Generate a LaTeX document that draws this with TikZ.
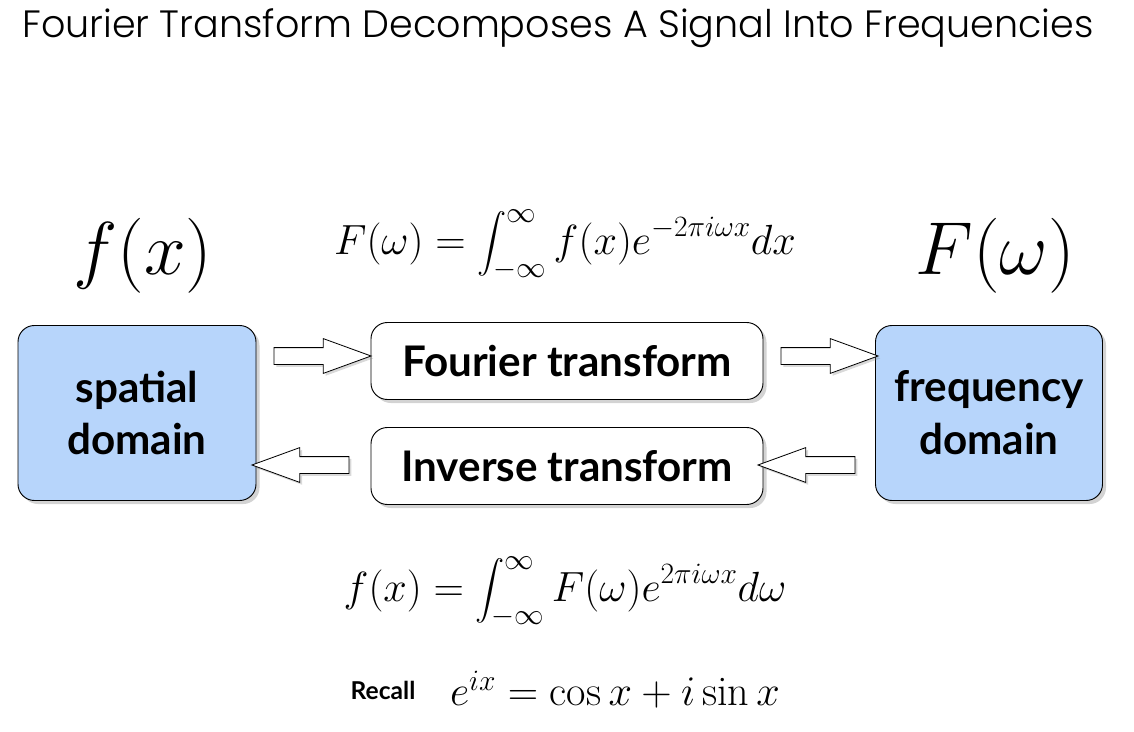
\documentclass[tikz,border=0pt]{standalone}
\usepackage{fix-cm}
\usepackage{exscale}
\usepackage{amsmath}
\usepackage{fontspec}
\setsansfont{Lato}
\newfontfamily\titlefont{Poppins Light}
\usetikzlibrary{shapes.arrows,shadows}
\definecolor{boxblue}{HTML}{B7D5FB}
\begin{document}
\begin{tikzpicture}[x=0.03cm,y=-0.03cm,
  dom/.style={draw=black,line width=0.8pt,fill=boxblue,rounded corners=14pt,minimum width=238*0.03cm,minimum height=175*0.03cm,align=center,font=\sffamily\bfseries\fontsize{36}{45}\selectfont,drop shadow={shadow xshift=3pt,shadow yshift=-3pt,opacity=0.35}},
  tr/.style={draw=black,line width=0.8pt,fill=white,rounded corners=14pt,minimum width=392*0.03cm,minimum height=77*0.03cm,font=\sffamily\bfseries\fontsize{36}{42}\selectfont,drop shadow={shadow xshift=3pt,shadow yshift=-3pt,opacity=0.35}},
  arr/.style={single arrow,draw=black,line width=0.7pt,fill=white,minimum height=97*0.03cm,single arrow head extend=9*0.03cm,single arrow tip angle=40,inner sep=0pt,drop shadow={shadow xshift=2pt,shadow yshift=-2pt,opacity=0.3}},
  eq/.style={font=\fontsize{36}{42}\selectfont}]
\useasboundingbox (0,0) rectangle (1134,732);
\node[font=\titlefont\fontsize{32.5}{38}\selectfont] (title) at (558,28) {Fourier Transform Decomposes A Signal Into Frequencies};
\node[dom] (sp) at (137,413) {spatial\\domain};
\node[dom,minimum width=227*0.03cm] (fr) at (989,413) {frequency\\domain};
\node[tr] (ft) at (567,361) {Fourier transform};
\node[tr] (it) at (567,466) {Inverse transform};
\node[arr] (a1) at (311,356) {\rule{0pt}{0.48cm}};
\node[arr] (a2) at (818,356) {\rule{0pt}{0.48cm}};
\node[arr,shape border rotate=180] (a3) at (312,465) {\rule{0pt}{0.48cm}};
\node[arr,shape border rotate=180] (a4) at (818,465) {\rule{0pt}{0.48cm}};
\node[font=\fontsize{64}{72}\selectfont] (fx) at (143,256) {$f(x)$};
\node[font=\fontsize{64}{72}\selectfont] (Fw) at (995,256) {$F(\omega)$};
\node[eq] (e1) at (565,245) {$F(\omega)=\displaystyle\int_{-\infty}^{\infty} f(x)e^{-2\pi i\omega x}dx$};
\node[eq] (e2) at (565,592) {$f(x)=\displaystyle\int_{-\infty}^{\infty} F(\omega)e^{2\pi i\omega x}d\omega$};
\node[font=\sffamily\bfseries\fontsize{21}{24}\selectfont] (rc) at (383,690) {Recall};
\node[eq] (e3) at (615,690) {$e^{ix}=\cos x+i\sin x$};
\end{tikzpicture}
\end{document}
